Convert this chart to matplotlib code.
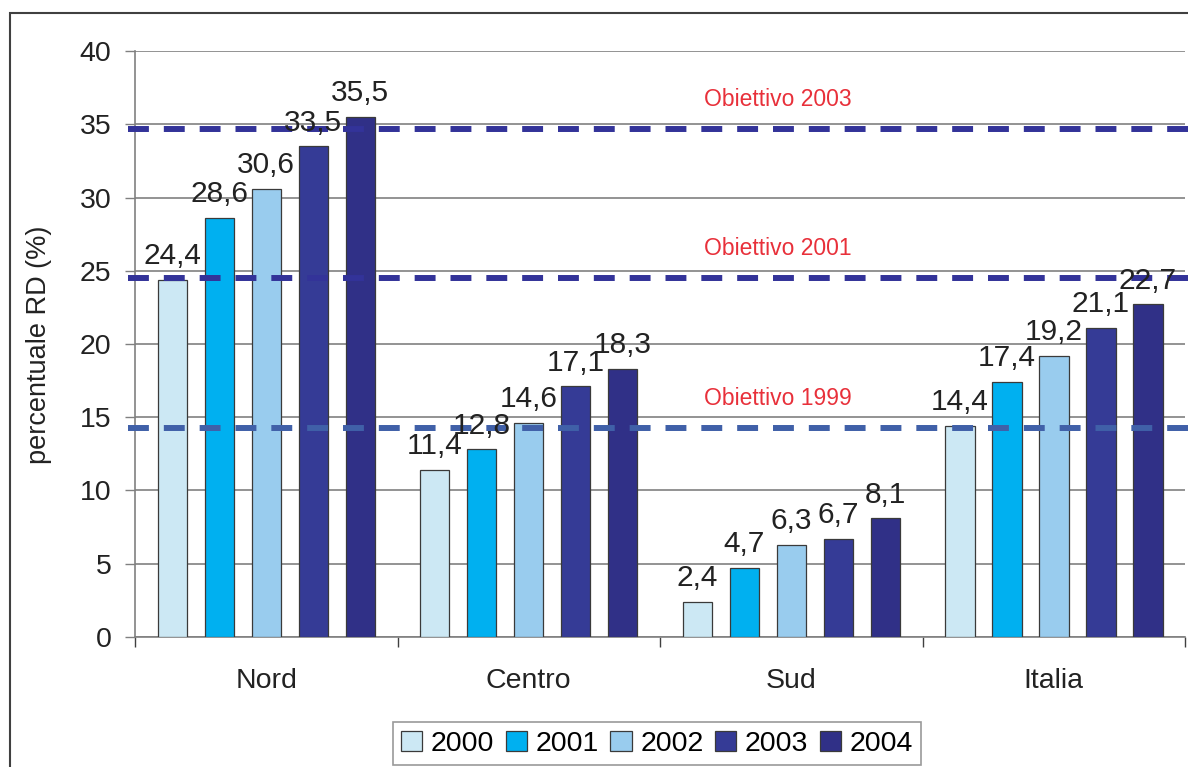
import matplotlib.pyplot as plt
import numpy as np
from matplotlib.patches import Rectangle

plt.rcParams['font.family'] = ['Liberation Sans', 'DejaVu Sans']

# dati
regioni = ['Nord', 'Centro', 'Sud', 'Italia']
anni = ['2000', '2001', '2002', '2003', '2004']
rd_2000 = [24.4, 11.4, 2.4, 14.4]
rd_2001 = [28.6, 12.8, 4.7, 17.4]
rd_2002 = [30.6, 14.6, 6.3, 19.2]
rd_2003 = [33.5, 17.1, 6.7, 21.1]
rd_2004 = [35.5, 18.3, 8.1, 22.7]
serie = [rd_2000, rd_2001, rd_2002, rd_2003, rd_2004]
colori = ['#CCE8F4', '#00B0F0', '#99CCEE', '#353B96', '#303087']

obiettivi = [34.7, 24.5, 14.3]
obiettivi_testo = ['Obiettivo 2003', 'Obiettivo 2001', 'Obiettivo 1999']
obiettivi_colori = ['#333399', '#333399', '#4060A8']

fig = plt.figure(figsize=(11.88, 7.67), dpi=100)
ax = fig.add_axes([0.1136, 0.1695, 0.884, 0.764])

x = np.arange(len(regioni))
passo = 0.179
larghezza = 0.112
for i, (valori, col, anno) in enumerate(zip(serie, colori, anni)):
    pos = x + (i - 2) * passo
    ax.bar(pos, valori, larghezza, color=col, edgecolor='#3a3a3a',
           linewidth=0.9, label=anno, zorder=3)
    for p, v in zip(pos, valori):
        ax.annotate(f'{v:.1f}'.replace('.', ','), (p, v), xytext=(0, 7),
                    textcoords='offset points', ha='center', va='bottom',
                    fontsize=21.5, color='#222222', zorder=6)

# linee obiettivo
for y, testo, c in zip(obiettivi, obiettivi_testo, obiettivi_colori):
    ax.axhline(y, xmin=-0.007, xmax=1.01, color=c, lw=4.3, dashes=(3.5, 2.5),
               clip_on=False, zorder=5)
    ax.text(1.95, y + 2.0, testo, ha='center', va='center', fontsize=16.5,
            color='#E8303A', zorder=6)

ax.set_ylim(0, 40)
ax.set_xlim(-0.5, 3.5)
ax.set_yticks(range(0, 41, 5))
ax.yaxis.grid(True, color='#808080', lw=1.2, zorder=0)
ax.tick_params(axis='y', labelsize=20.5, length=7, width=1, color='#808080',
               pad=10, labelcolor='#222222')

ax.set_xticks(np.arange(-0.5, 4, 1))
ax.set_xticklabels([])
ax.set_xticks(x, minor=True)
ax.set_xticklabels(regioni, minor=True)
ax.tick_params(axis='x', which='major', length=7, width=1, color='#404040')
ax.tick_params(axis='x', which='minor', length=0, pad=22, labelsize=20.5,
               labelcolor='#222222')

for s in ['top', 'right']:
    ax.spines[s].set_visible(False)
ax.spines['left'].set_color('#808080')
ax.spines['bottom'].set_color('#808080')
ax.spines['left'].set_linewidth(1.2)
ax.spines['bottom'].set_linewidth(1.2)

ax.set_ylabel('percentuale RD (%)', fontsize=19.5, color='#222222')
ax.yaxis.set_label_coords(-0.079, 0.498)

leg = fig.legend(loc='upper center', bbox_to_anchor=(0.553, 0.0587), ncol=5,
                 fontsize=20.5, frameon=True, fancybox=False, handlelength=0.75,
                 handleheight=0.75, handletextpad=0.3, columnspacing=0.4,
                 borderpad=0.3, borderaxespad=0)
leg.get_frame().set_edgecolor('#808080')
leg.get_frame().set_linewidth(1.2)

# cornice esterna
fig.patches.append(Rectangle((10 / 1188, -0.1), 1.2, 1.1 - 12.7 / 767,
                             transform=fig.transFigure, fill=False,
                             edgecolor='#404040', lw=1.5))

fig.savefig('out.png', dpi=100)
